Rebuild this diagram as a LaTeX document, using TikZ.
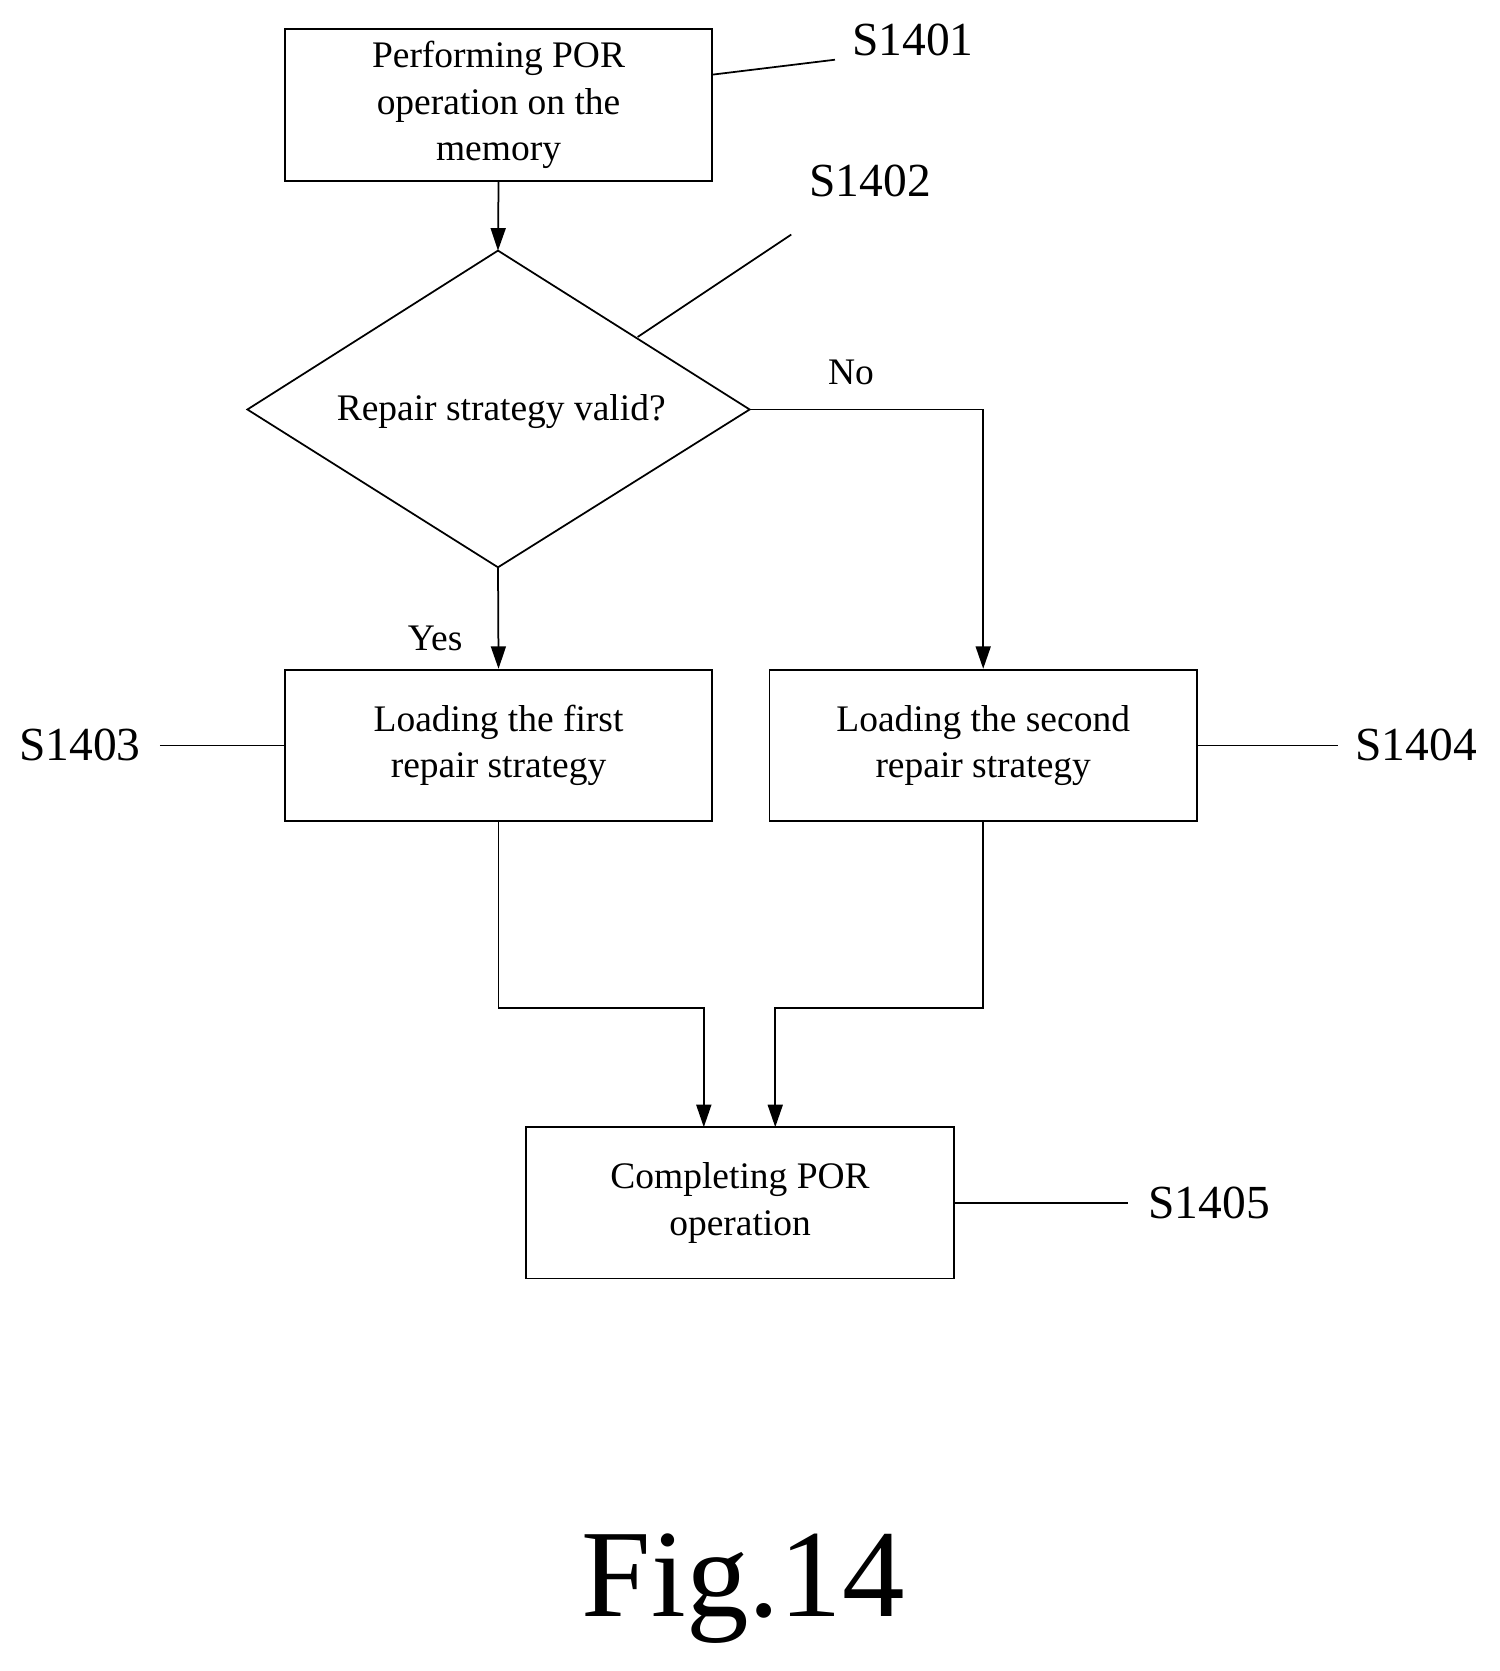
\documentclass[tikz,border=0pt]{standalone}
\usepackage{fontspec}
\setmainfont{Liberation Serif}
\usetikzlibrary{arrows.meta}
\begin{document}
\begin{tikzpicture}[x=0.03cm,y=-0.03cm,
  box/.style={draw,line width=1.4pt,minimum width=401*0.03cm,minimum height=142*0.03cm,align=center,font=\fontsize{30}{37}\selectfont,inner sep=0pt},
  lbl/.style={font=\fontsize{38}{40}\selectfont,inner sep=0pt},
  arr/.style={line width=1.4pt,-{Triangle[length=18pt,width=12pt]}},
  ln/.style={line width=1.4pt}]
\useasboundingbox (0,0) rectangle (1406,1567);
\node[box] (b1) at (467.5,98.5) {Performing POR\\operation on the\\memory};
\coordinate (dt) at (467,235);
\coordinate (db) at (467,532);
\coordinate (dl) at (232,384);
\coordinate (dr) at (703,384);
\draw[ln] (dt)--(dr)--(db)--(dl)--cycle;
\node[font=\fontsize{30}{37}\selectfont] (dtxt) at (470,386) {Repair strategy valid?};
\node[box] (b3) at (467.5,699) {Loading the first\\repair strategy};
\node[box] (b4) at (922,699) {Loading the second\\repair strategy};
\node[box] (b5) at (694,1128) {Completing POR\\operation};
\draw[arr] (b1.south) -- (dt);
\draw[arr] (dr) -| (b4.north);
\draw[arr] (db) -- (b3.north);
\draw[arr] (b3.south) |- (660,945) -- (660,1057);
\draw[arr] (b4.south) |- (727,945) -- (727,1057);
\node[font=\fontsize{30}{37}\selectfont] (no) at (798,349) {No};
\node[font=\fontsize{30}{37}\selectfont] (yes) at (408,599) {Yes};
\node[lbl] (s1) at (856,37) {S1401};
\node[lbl] (s2) at (816,170) {S1402};
\node[lbl] (s3) at (75,699) {S1403};
\node[lbl] (s4) at (1328,699) {S1404};
\node[lbl] (s5) at (1134,1128) {S1405};
\draw[ln] (668,70) -- (783,56);
\draw[ln] (598,316) -- (742,220);
\draw[ln] (150,699) -- (b3.west);
\draw[ln] (b4.east) -- (1255,699);
\draw[ln] (b5.east) -- (1058,1128);
\node[font=\fontsize{100}{100}\selectfont] (fig) at (697,1490) {Fig.14};
\end{tikzpicture}
\end{document}
